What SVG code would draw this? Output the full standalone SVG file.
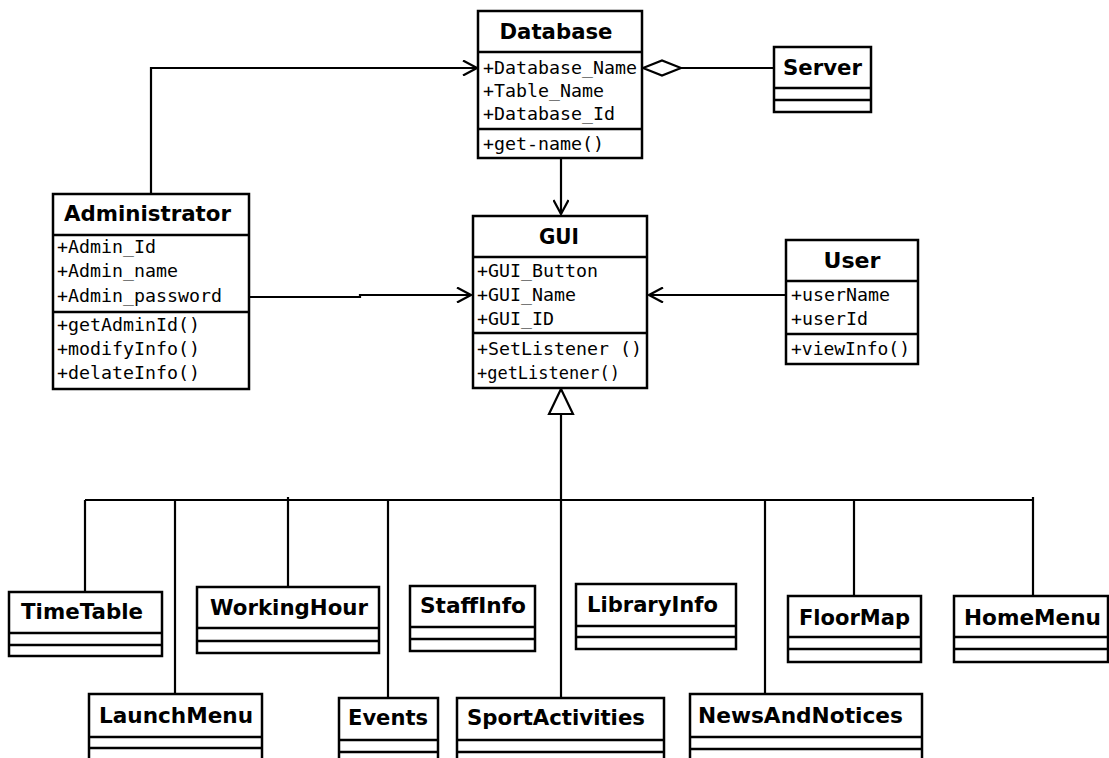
<svg xmlns="http://www.w3.org/2000/svg" width="1109" height="758" viewBox="0 0 1109 758">
  <style>
    .box { fill: #ffffff; stroke: #000000; stroke-width: 2.5; }
    .sep { stroke: #000000; stroke-width: 2.5; }
    .title { font-family: "DejaVu Sans", "Liberation Sans", sans-serif; font-weight: bold; font-size: 21px; fill: #000000; }
    .mono { font-family: "DejaVu Sans Mono", "Liberation Mono", monospace; font-size: 17px; fill: #000000; }
    .wire { fill: none; stroke: #000000; stroke-width: 2.2; }
  </style>
  <defs>
    <marker id="open-arrow" markerUnits="userSpaceOnUse" viewBox="0 0 16 16" refX="15" refY="8" markerWidth="16" markerHeight="16" orient="auto">
      <path d="M1,0.5 L15,8 L1,15.5" fill="none" stroke="#000000" stroke-width="2.2"/>
    </marker>
    <marker id="hollow-triangle" markerUnits="userSpaceOnUse" viewBox="0 0 28 28" refX="26" refY="14" markerWidth="28" markerHeight="28" orient="auto">
      <path d="M1,2 L26,14 L1,26 Z" fill="#ffffff" stroke="#000000" stroke-width="2.2"/>
    </marker>
    <marker id="hollow-diamond" markerUnits="userSpaceOnUse" viewBox="0 0 40 18" refX="39" refY="9" markerWidth="40" markerHeight="18" orient="auto">
      <path d="M1,9 L20,1.5 L39,9 L20,16.5 Z" fill="#ffffff" stroke="#000000" stroke-width="2.2"/>
    </marker>
  </defs>

  <rect x="0" y="0" width="1109" height="758" fill="#ffffff"/>

  <!-- connectors -->
  <g id="connectors">
    <!-- Administrator -> Database -->
    <path class="wire" d="M151,194 L151,68 L477,68" marker-end="url(#open-arrow)"/>
    <!-- Server aggregated into Database -->
    <path class="wire" d="M774,68 L643,68" marker-end="url(#hollow-diamond)"/>
    <!-- Database -> GUI -->
    <path class="wire" d="M561,158 L561,214" marker-end="url(#open-arrow)"/>
    <!-- Administrator -> GUI -->
    <path class="wire" d="M249,297 L360,297 L360,295 L471,295" marker-end="url(#open-arrow)"/>
    <!-- User -> GUI -->
    <path class="wire" d="M786,295 L649,295" marker-end="url(#open-arrow)"/>
    <!-- generalization trunk -->
    <path class="wire" d="M561,500 L561,389" marker-end="url(#hollow-triangle)"/>
    <!-- bus -->
    <path class="wire" d="M85,500 L1033,500"/>
    <path class="wire" d="M85,500 L85,592"/>
    <path class="wire" d="M175,500 L175,694"/>
    <path class="wire" d="M288,497 L288,587"/>
    <path class="wire" d="M388,500 L388,698"/>
    <path class="wire" d="M561,500 L561,698"/>
    <path class="wire" d="M765,500 L765,694"/>
    <path class="wire" d="M854,500 L854,596"/>
    <path class="wire" d="M1033,497 L1033,596"/>
  </g>

  <!-- Database -->
  <g id="database">
    <rect class="box" x="478" y="11" width="164" height="147"/>
    <line class="sep" x1="478" y1="52" x2="642" y2="52"/>
    <line class="sep" x1="478" y1="129" x2="642" y2="129"/>
    <text class="title" x="556" y="39" text-anchor="middle" textLength="113" lengthAdjust="spacingAndGlyphs">Database</text>
    <text class="mono" x="483" y="74" textLength="154" lengthAdjust="spacingAndGlyphs">+Database_Name</text>
    <text class="mono" x="483" y="97" textLength="121" lengthAdjust="spacingAndGlyphs">+Table_Name</text>
    <text class="mono" x="483" y="120" textLength="132" lengthAdjust="spacingAndGlyphs">+Database_Id</text>
    <text class="mono" x="483" y="150" textLength="121" lengthAdjust="spacingAndGlyphs">+get-name()</text>
  </g>

  <!-- Server -->
  <g id="server">
    <rect class="box" x="774" y="47" width="97" height="65"/>
    <line class="sep" x1="774" y1="88" x2="871" y2="88"/>
    <line class="sep" x1="774" y1="100" x2="871" y2="100"/>
    <text class="title" x="822.5" y="75" text-anchor="middle" textLength="79" lengthAdjust="spacingAndGlyphs">Server</text>
  </g>

  <!-- Administrator -->
  <g id="administrator">
    <rect class="box" x="53" y="194" width="196" height="195"/>
    <line class="sep" x1="53" y1="235" x2="249" y2="235"/>
    <line class="sep" x1="53" y1="312" x2="249" y2="312"/>
    <text class="title" x="147.5" y="221" text-anchor="middle" textLength="167" lengthAdjust="spacingAndGlyphs">Administrator</text>
    <text class="mono" x="57" y="253" textLength="99" lengthAdjust="spacingAndGlyphs">+Admin_Id</text>
    <text class="mono" x="57" y="277" textLength="121" lengthAdjust="spacingAndGlyphs">+Admin_name</text>
    <text class="mono" x="57" y="302" textLength="165" lengthAdjust="spacingAndGlyphs">+Admin_password</text>
    <text class="mono" x="57" y="331" textLength="143" lengthAdjust="spacingAndGlyphs">+getAdminId()</text>
    <text class="mono" x="57" y="355" textLength="143" lengthAdjust="spacingAndGlyphs">+modifyInfo()</text>
    <text class="mono" x="57" y="379" textLength="143" lengthAdjust="spacingAndGlyphs">+delateInfo()</text>
  </g>

  <!-- GUI -->
  <g id="gui">
    <rect class="box" x="473" y="216" width="174" height="172"/>
    <line class="sep" x1="473" y1="257" x2="647" y2="257"/>
    <line class="sep" x1="473" y1="333" x2="647" y2="333"/>
    <text class="title" x="559" y="244" text-anchor="middle" textLength="40" lengthAdjust="spacingAndGlyphs">GUI</text>
    <text class="mono" x="477" y="277" textLength="121" lengthAdjust="spacingAndGlyphs">+GUI_Button</text>
    <text class="mono" x="477" y="301" textLength="99" lengthAdjust="spacingAndGlyphs">+GUI_Name</text>
    <text class="mono" x="477" y="325" textLength="77" lengthAdjust="spacingAndGlyphs">+GUI_ID</text>
    <text class="mono" x="477" y="355" textLength="165" lengthAdjust="spacingAndGlyphs">+SetListener ()</text>
    <text class="mono" x="477" y="379" textLength="143" lengthAdjust="spacingAndGlyphs">+getListener()</text>
  </g>

  <!-- User -->
  <g id="user">
    <rect class="box" x="786" y="240" width="132" height="124"/>
    <line class="sep" x1="786" y1="281" x2="918" y2="281"/>
    <line class="sep" x1="786" y1="334" x2="918" y2="334"/>
    <text class="title" x="852" y="268" text-anchor="middle" textLength="57" lengthAdjust="spacingAndGlyphs">User</text>
    <text class="mono" x="791" y="301" textLength="99" lengthAdjust="spacingAndGlyphs">+userName</text>
    <text class="mono" x="791" y="325" textLength="77" lengthAdjust="spacingAndGlyphs">+userId</text>
    <text class="mono" x="791" y="355" textLength="119" lengthAdjust="spacingAndGlyphs">+viewInfo()</text>
  </g>

  <!-- TimeTable -->
  <g id="timetable">
    <rect class="box" x="9" y="592" width="153" height="64"/>
    <line class="sep" x1="9" y1="633" x2="162" y2="633"/>
    <line class="sep" x1="9" y1="645" x2="162" y2="645"/>
    <text class="title" x="21" y="619" textLength="122" lengthAdjust="spacingAndGlyphs">TimeTable</text>
  </g>

  <!-- WorkingHour -->
  <g id="workinghour">
    <rect class="box" x="197" y="587" width="182" height="66"/>
    <line class="sep" x1="197" y1="628" x2="379" y2="628"/>
    <line class="sep" x1="197" y1="641" x2="379" y2="641"/>
    <text class="title" x="210" y="615" textLength="158" lengthAdjust="spacingAndGlyphs">WorkingHour</text>
  </g>

  <!-- StaffInfo -->
  <g id="staffinfo">
    <rect class="box" x="410" y="586" width="125" height="65"/>
    <line class="sep" x1="410" y1="627" x2="535" y2="627"/>
    <line class="sep" x1="410" y1="639" x2="535" y2="639"/>
    <text class="title" x="420" y="613" textLength="106" lengthAdjust="spacingAndGlyphs">StaffInfo</text>
  </g>

  <!-- LibraryInfo -->
  <g id="libraryinfo">
    <rect class="box" x="576" y="584" width="160" height="65"/>
    <line class="sep" x1="576" y1="626" x2="736" y2="626"/>
    <line class="sep" x1="576" y1="637" x2="736" y2="637"/>
    <text class="title" x="587" y="612" textLength="131" lengthAdjust="spacingAndGlyphs">LibraryInfo</text>
  </g>

  <!-- FloorMap -->
  <g id="floormap">
    <rect class="box" x="788" y="596" width="133" height="66"/>
    <line class="sep" x1="788" y1="637" x2="921" y2="637"/>
    <line class="sep" x1="788" y1="649" x2="921" y2="649"/>
    <text class="title" x="799" y="625" textLength="111" lengthAdjust="spacingAndGlyphs">FloorMap</text>
  </g>

  <!-- HomeMenu -->
  <g id="homemenu">
    <rect class="box" x="954" y="596" width="154" height="66"/>
    <line class="sep" x1="954" y1="637" x2="1108" y2="637"/>
    <line class="sep" x1="954" y1="649" x2="1108" y2="649"/>
    <text class="title" x="964" y="625" textLength="137" lengthAdjust="spacingAndGlyphs">HomeMenu</text>
  </g>

  <!-- LaunchMenu -->
  <g id="launchmenu">
    <rect class="box" x="89" y="694" width="173" height="80"/>
    <line class="sep" x1="89" y1="737" x2="262" y2="737"/>
    <line class="sep" x1="89" y1="748" x2="262" y2="748"/>
    <text class="title" x="99" y="723" textLength="154" lengthAdjust="spacingAndGlyphs">LaunchMenu</text>
  </g>

  <!-- Events -->
  <g id="events">
    <rect class="box" x="339" y="698" width="99" height="80"/>
    <line class="sep" x1="339" y1="740" x2="438" y2="740"/>
    <line class="sep" x1="339" y1="752" x2="438" y2="752"/>
    <text class="title" x="348" y="725" textLength="80" lengthAdjust="spacingAndGlyphs">Events</text>
  </g>

  <!-- SportActivities -->
  <g id="sportactivities">
    <rect class="box" x="457" y="698" width="207" height="80"/>
    <line class="sep" x1="457" y1="740" x2="664" y2="740"/>
    <line class="sep" x1="457" y1="752" x2="664" y2="752"/>
    <text class="title" x="467" y="725" textLength="178" lengthAdjust="spacingAndGlyphs">SportActivities</text>
  </g>

  <!-- NewsAndNotices -->
  <g id="newsandnotices">
    <rect class="box" x="690" y="694" width="232" height="80"/>
    <line class="sep" x1="690" y1="737" x2="922" y2="737"/>
    <line class="sep" x1="690" y1="749" x2="922" y2="749"/>
    <text class="title" x="698" y="723" textLength="205" lengthAdjust="spacingAndGlyphs">NewsAndNotices</text>
  </g>
</svg>
